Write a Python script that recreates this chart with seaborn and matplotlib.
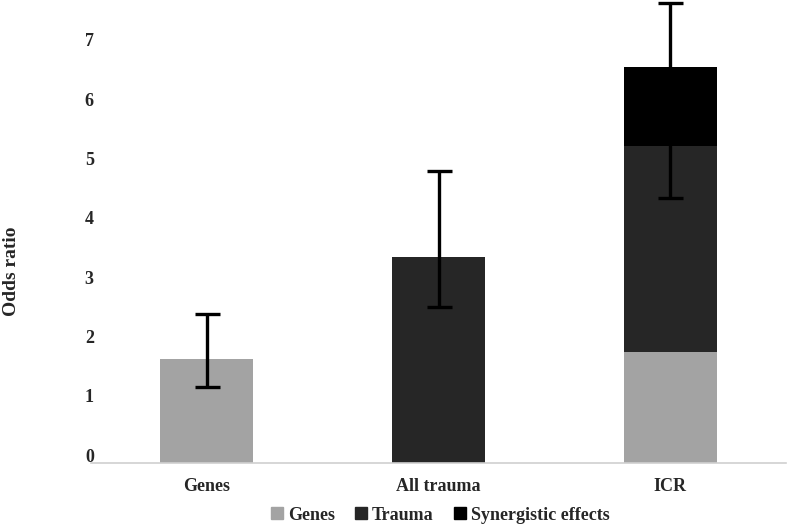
import pandas as pd
import matplotlib.pyplot as plt
import matplotlib.transforms as mtransforms
from matplotlib.lines import Line2D
import seaborn as sns

# ======================
# DATA
# ======================
categories = ["Genes", "All trauma", "ICR"]
genes = [1.75, 0.0, 1.87]
trauma = [0.0, 3.47, 3.48]
synergy = [0.0, 0.0, 1.33]
ci_low = [1.28, 2.63, 4.47]
ci_high = [2.51, 4.92, 7.76]
err_center = [1.75, 3.47, 6.0]

legend_labels = ["Genes", "Trauma", "Synergistic effects"]
colors = ["#a3a3a3", "#262626", "#000000"]

df = pd.DataFrame({"cat": categories, "genes": genes, "trauma": trauma, "synergy": synergy})
df["g_t"] = df["genes"] + df["trauma"]
df["total"] = df["g_t"] + df["synergy"]

# ======================
# PLOT
# ======================
sns.set_theme(style="white")
plt.rcParams["font.family"] = ["Liberation Serif", "DejaVu Serif"]
plt.rcParams["font.weight"] = "bold"

fig = plt.figure(figsize=(7.87, 5.26), dpi=100)
ax = fig.add_axes([91 / 787, 63 / 526, 695 / 787, 463 / 526])

# stacked bars drawn as overlapping cumulative totals
for col, c in zip(["total", "g_t", "genes"], colors[::-1]):
    sns.barplot(data=df, x="cat", y=col, color=c, width=0.4, ax=ax,
                saturation=1, linewidth=0, edgecolor=c)

# error bars
xpos = range(len(categories))
lower = [c - lo for c, lo in zip(err_center, ci_low)]
upper = [hi - c for c, hi in zip(err_center, ci_high)]
ax.errorbar(xpos, err_center, yerr=[lower, upper], fmt="none", ecolor="black",
            elinewidth=2.4, capsize=9, capthick=2.4, zorder=5)

ax.set_xlim(-0.5, 2.5)
ax.set_ylim(0, 463 / 59.3)
ax.set_yticks(range(0, 8))
ax.set_xlabel("")
ax.set_ylabel("")
fig.text(12 / 787, 1 - 271 / 526, "Odds ratio", rotation=90, ha="center", va="center",
         fontsize=14, fontweight="bold")

for s in ["top", "right", "left"]:
    ax.spines[s].set_visible(False)
ax.spines["bottom"].set_color("#d0d0d0")
ax.spines["bottom"].set_linewidth(1.2)

ax.tick_params(axis="both", length=0, labelsize=13)
ax.tick_params(axis="x", pad=11)
ax.tick_params(axis="y", pad=-2)
offset = mtransforms.ScaledTranslation(0, 8 / 100, fig.dpi_scale_trans)
for lab in ax.get_yticklabels():
    lab.set_transform(lab.get_transform() + offset)
    lab.set_fontweight("bold")
for lab in ax.get_xticklabels():
    lab.set_fontweight("bold")

handles = [Line2D([0], [0], marker="s", linestyle="none", markersize=8,
                  markerfacecolor=c, markeredgecolor=c) for c in colors]
fig.legend(handles, legend_labels, loc="center", bbox_to_anchor=(440 / 787, 1 - 515 / 526),
           ncol=3, frameon=False, handlelength=0.7, handletextpad=0.25, columnspacing=1.1,
           borderpad=0, prop={"weight": "bold", "size": 13})

fig.savefig("out.png", dpi=100)
